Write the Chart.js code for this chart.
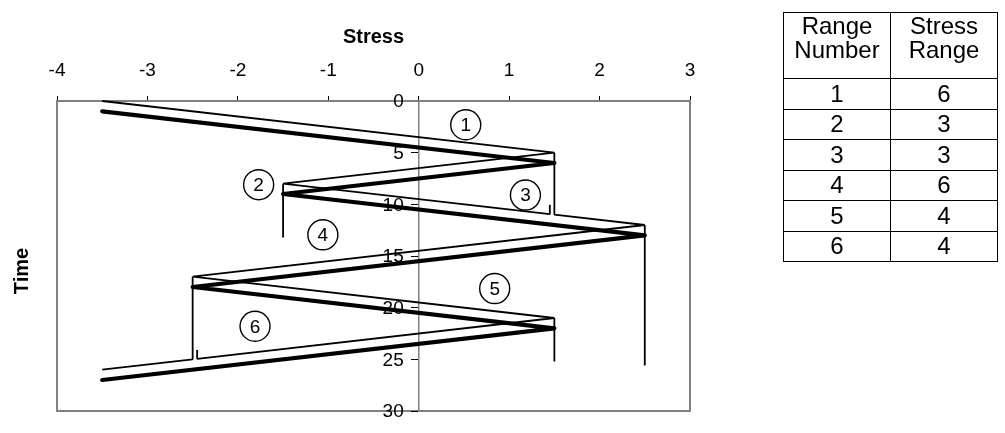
<!DOCTYPE html>
<html>
<head>
<meta charset="utf-8">
<title>Rainflow counting</title>
<script src="https://cdn.jsdelivr.net/npm/chart.js@4.4.1/dist/chart.umd.min.js"></script>
<style>
  body { margin: 0; background: #fff; font-family: "Liberation Sans", Arial, sans-serif; }
  #wrap { position: relative; width: 1005px; height: 433px; }
  #chart { position: absolute; left: 0; top: 0; }
  #rangeTable { position: absolute; left: 783px; top: 12px; border-collapse: collapse; font-size: 24px; line-height: 24px; }
  #rangeTable th, #rangeTable td { border: 1.5px solid #000; text-align: center; font-weight: normal; padding: 0; }
  #rangeTable th { height: 64px; width: 106px; vertical-align: top; padding-top: 1px; }
  #rangeTable td { height: 29.5px; }
</style>
</head>
<body>
<div id="wrap">
  <canvas id="chart" width="1005" height="433"></canvas>
  <table id="rangeTable">
    <thead><tr><th>Range<br>Number</th><th>Stress<br>Range</th></tr></thead>
    <tbody></tbody>
  </table>
</div>
<script>
// stress history (thick line), time runs downwards
const historyStress = [-3.5, 1.5, -1.5, 2.5, -2.5, 1.5, -3.5];
const historyTime = [1, 6, 9, 13, 18, 22, 27];

// rain paths on the roofs (thin lines)
const path1Stress = [-3.5, 1.5, -1.5, 1.45, 1.45];
const path1Time = [0, 5, 8, 10.95, 10.05];
const path2Stress = [1.5, 1.5, 2.5, -2.5, 1.5, -2.45, -2.45];
const path2Time = [5, 11, 12, 17, 21, 24.95, 24.1];
const path3Stress = [-1.5, -1.5];
const path3Time = [8, 13.2];
const path4Stress = [2.5, 2.5];
const path4Time = [12, 25.6];
const path5Stress = [-2.5, -2.5, -3.5];
const path5Time = [17, 25, 26];
const path6Stress = [1.5, 1.5];
const path6Time = [21, 25.2];

// circled range numbers
const rangeNumbers = [1, 2, 3, 4, 5, 6];
const stressRanges = [6, 3, 3, 6, 4, 4];
const markerStress = [0.52, -1.77, 1.18, -1.06, 0.84, -1.81];
const markerTime = [2.3, 8.1, 9.1, 12.95, 18.15, 21.8];

// axis ticks
const stressTicks = [-4, -3, -2, -1, 0, 1, 2, 3];
const timeTicks = [0, 5, 10, 15, 20, 25, 30];

const FONT = '"Liberation Sans", Arial, sans-serif';
const pts = (xs, ys) => xs.map((x, i) => ({ x: x, y: ys[i] }));

const tbody = document.querySelector('#rangeTable tbody');
rangeNumbers.forEach((n, i) => {
  const tr = document.createElement('tr');
  tr.innerHTML = `<td>${n}</td><td>${stressRanges[i]}</td>`;
  tbody.appendChild(tr);
});

Chart.defaults.font.family = FONT;
Chart.defaults.color = '#000';

const thin = (xs, ys) => ({
  data: pts(xs, ys),
  showLine: true,
  borderColor: '#000',
  borderWidth: 1.8,
  borderJoinStyle: 'bevel',
  pointRadius: 0,
  clip: false
});

// plot frame, time tick labels left of the axis, and the vertical "Time" title
const frame = {
  id: 'frame',
  beforeDraw(chart) {
    const { ctx, chartArea: a } = chart;
    ctx.save();
    ctx.strokeStyle = '#808080';
    ctx.lineWidth = 2;
    ctx.strokeRect(a.left, a.top, a.right - a.left, a.bottom - a.top);
    ctx.restore();
  },
  beforeDatasetsDraw(chart) {
    const { ctx, scales: { x, y } } = chart;
    const x0 = x.getPixelForValue(0);
    ctx.save();
    ctx.font = '19px ' + FONT;
    ctx.fillStyle = '#000';
    ctx.textAlign = 'right';
    ctx.textBaseline = 'middle';
    y.ticks.forEach(t => ctx.fillText(String(t.value), x0 - 15, y.getPixelForValue(t.value) + 1));
    ctx.restore();
  },
  afterDraw(chart) {
    const ctx = chart.ctx;
    ctx.save();
    ctx.translate(22, 271);
    ctx.rotate(-Math.PI / 2);
    ctx.font = 'bold 20px ' + FONT;
    ctx.fillStyle = '#000';
    ctx.textAlign = 'center';
    ctx.textBaseline = 'middle';
    ctx.fillText('Time', 0, 0);
    ctx.restore();
  }
};

// numbers inside the circles
const circleText = {
  id: 'circleText',
  afterDatasetsDraw(chart) {
    const ctx = chart.ctx;
    const meta = chart.getDatasetMeta(0);
    ctx.save();
    ctx.font = '19px ' + FONT;
    ctx.fillStyle = '#000';
    ctx.textAlign = 'center';
    ctx.textBaseline = 'middle';
    meta.data.forEach((p, i) => ctx.fillText(String(rangeNumbers[i]), p.x, p.y + 1));
    ctx.restore();
  }
};

new Chart(document.getElementById('chart'), {
  type: 'scatter',
  data: {
    datasets: [
      {
        data: pts(markerStress, markerTime),
        pointRadius: 15,
        pointBackgroundColor: '#fff',
        pointBorderColor: '#000',
        pointBorderWidth: 1.4,
        showLine: false
      },
      {
        data: pts(historyStress, historyTime),
        showLine: true,
        borderColor: '#000',
        borderWidth: 4.2,
        borderCapStyle: 'round',
        borderJoinStyle: 'round',
        pointRadius: 0,
        clip: false
      },
      thin(path1Stress, path1Time),
      thin(path2Stress, path2Time),
      thin(path3Stress, path3Time),
      thin(path4Stress, path4Time),
      thin(path5Stress, path5Time),
      thin(path6Stress, path6Time)
    ]
  },
  options: {
    responsive: false,
    animation: false,
    events: [],
    layout: { padding: { left: 57, right: 315, top: 0, bottom: 22 } },
    plugins: { legend: { display: false }, tooltip: { enabled: false } },
    scales: {
      x: {
        type: 'linear',
        position: 'top',
        min: -4,
        max: 3,
        afterBuildTicks: s => { s.ticks = stressTicks.map(v => ({ value: v })); },
        afterFit: s => { s.height = 101; },
        grid: { drawOnChartArea: false, tickLength: 5, color: '#000', lineWidth: 1 },
        border: { color: '#808080', width: 2 },
        ticks: { font: { size: 19 }, color: '#000', padding: 14, maxRotation: 0 },
        title: { display: true, text: 'Stress', font: { size: 20, weight: 'bold' }, padding: { top: 25 } }
      },
      y: {
        type: 'linear',
        reverse: true,
        min: 0,
        max: 30,
        position: { x: 0 },
        afterBuildTicks: s => { s.ticks = timeTicks.map(v => ({ value: v })); },
        grid: { drawOnChartArea: false, tickLength: 7, color: '#000', lineWidth: 1 },
        border: { color: '#808080', width: 1.5 },
        ticks: { display: false }
      }
    }
  },
  plugins: [frame, circleText]
});
</script>
</body>
</html>
